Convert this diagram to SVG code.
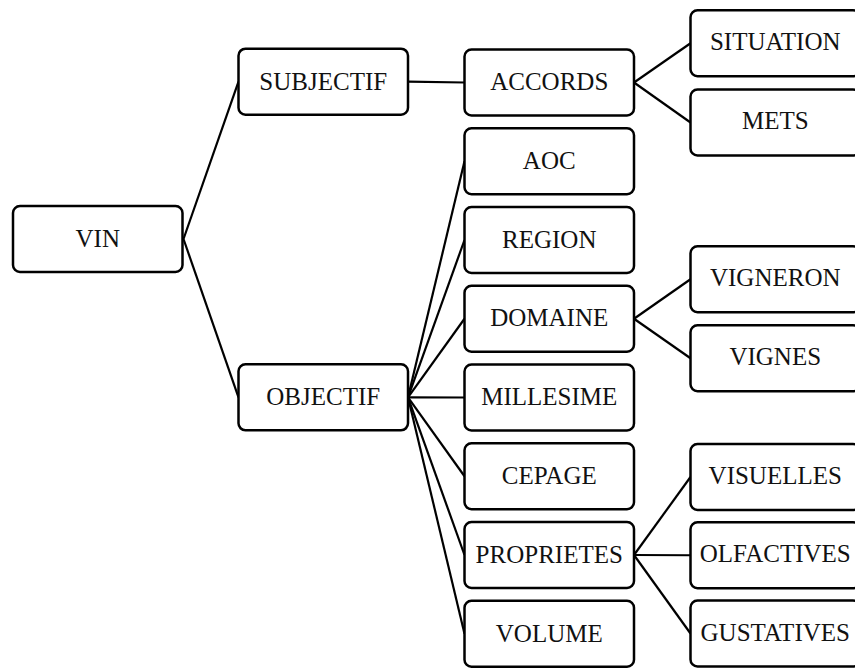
<svg xmlns="http://www.w3.org/2000/svg" width="855" height="668" viewBox="0 0 855 668">
<style>
.box{fill:#fff;stroke:#000;stroke-width:2.5}
.lbl{font-family:"Liberation Serif","Times New Roman",serif;font-size:25px;fill:#111;text-anchor:middle}
.con{stroke:#000;stroke-width:2.2;fill:none}
</style>
<rect width="855" height="668" fill="#fff"/>
<g id="connectors" class="con">
<line x1="183.5" y1="239" x2="238.5" y2="81.7"/>
<line x1="183.5" y1="239" x2="238.5" y2="397.3"/>
<line x1="408" y1="81.7" x2="464.5" y2="82.5"/>
<line x1="408" y1="397.3" x2="464.5" y2="161.25"/>
<line x1="408" y1="397.3" x2="464.5" y2="240"/>
<line x1="408" y1="397.3" x2="464.5" y2="318.75"/>
<line x1="408" y1="397.3" x2="464.5" y2="397.5"/>
<line x1="408" y1="397.3" x2="464.5" y2="476.25"/>
<line x1="408" y1="397.3" x2="464.5" y2="555"/>
<line x1="408" y1="397.3" x2="464.5" y2="633.75"/>
<line x1="634" y1="82.5" x2="690.5" y2="43.25"/>
<line x1="634" y1="82.5" x2="690.5" y2="122.5"/>
<line x1="634" y1="318.75" x2="690.5" y2="279.25"/>
<line x1="634" y1="318.75" x2="690.5" y2="358.25"/>
<line x1="634" y1="555" x2="690.5" y2="477"/>
<line x1="634" y1="555" x2="690.5" y2="555.25"/>
<line x1="634" y1="555" x2="690.5" y2="633.5"/>
</g>
<g id="vin"><rect class="box" x="13" y="206" width="169.5" height="66" rx="7"/><text class="lbl" x="97.75" y="247">VIN</text></g>
<g id="subjectif"><rect class="box" x="238.5" y="48.7" width="169.5" height="66" rx="7"/><text class="lbl" x="323.25" y="89.7">SUBJECTIF</text></g>
<g id="objectif"><rect class="box" x="238.5" y="364.3" width="169.5" height="66" rx="7"/><text class="lbl" x="323.25" y="405.3">OBJECTIF</text></g>
<g id="accords"><rect class="box" x="464.5" y="49.5" width="169.5" height="66" rx="7"/><text class="lbl" x="549.25" y="90">ACCORDS</text></g>
<g id="aoc"><rect class="box" x="464.5" y="128.25" width="169.5" height="66" rx="7"/><text class="lbl" x="549.25" y="168.75">AOC</text></g>
<g id="region"><rect class="box" x="464.5" y="207" width="169.5" height="66" rx="7"/><text class="lbl" x="549.25" y="247.5">REGION</text></g>
<g id="domaine"><rect class="box" x="464.5" y="285.75" width="169.5" height="66" rx="7"/><text class="lbl" x="549.25" y="326">DOMAINE</text></g>
<g id="millesime"><rect class="box" x="464.5" y="364.5" width="169.5" height="66" rx="7"/><text class="lbl" x="549.25" y="405">MILLESIME</text></g>
<g id="cepage"><rect class="box" x="464.5" y="443.25" width="169.5" height="66" rx="7"/><text class="lbl" x="549.25" y="483.75">CEPAGE</text></g>
<g id="proprietes"><rect class="box" x="464.5" y="522" width="169.5" height="66" rx="7"/><text class="lbl" x="549.25" y="562.5">PROPRIETES</text></g>
<g id="volume"><rect class="box" x="464.5" y="600.75" width="169.5" height="66" rx="7"/><text class="lbl" x="549.25" y="641.5">VOLUME</text></g>
<g id="situation"><rect class="box" x="690.5" y="10.25" width="169.5" height="66" rx="7"/><text class="lbl" x="775.25" y="50">SITUATION</text></g>
<g id="mets"><rect class="box" x="690.5" y="89.5" width="169.5" height="66" rx="7"/><text class="lbl" x="775.25" y="129.3">METS</text></g>
<g id="vigneron"><rect class="box" x="690.5" y="246.25" width="169.5" height="66" rx="7"/><text class="lbl" x="775.25" y="286">VIGNERON</text></g>
<g id="vignes"><rect class="box" x="690.5" y="325.25" width="169.5" height="66" rx="7"/><text class="lbl" x="775.25" y="364.8">VIGNES</text></g>
<g id="visuelles"><rect class="box" x="690.5" y="444" width="169.5" height="66" rx="7"/><text class="lbl" x="775.25" y="483.7">VISUELLES</text></g>
<g id="olfactives"><rect class="box" x="690.5" y="522.25" width="169.5" height="66" rx="7"/><text class="lbl" x="775.25" y="562">OLFACTIVES</text></g>
<g id="gustatives"><rect class="box" x="690.5" y="600.5" width="169.5" height="66" rx="7"/><text class="lbl" x="775.25" y="641.3">GUSTATIVES</text></g>
</svg>
